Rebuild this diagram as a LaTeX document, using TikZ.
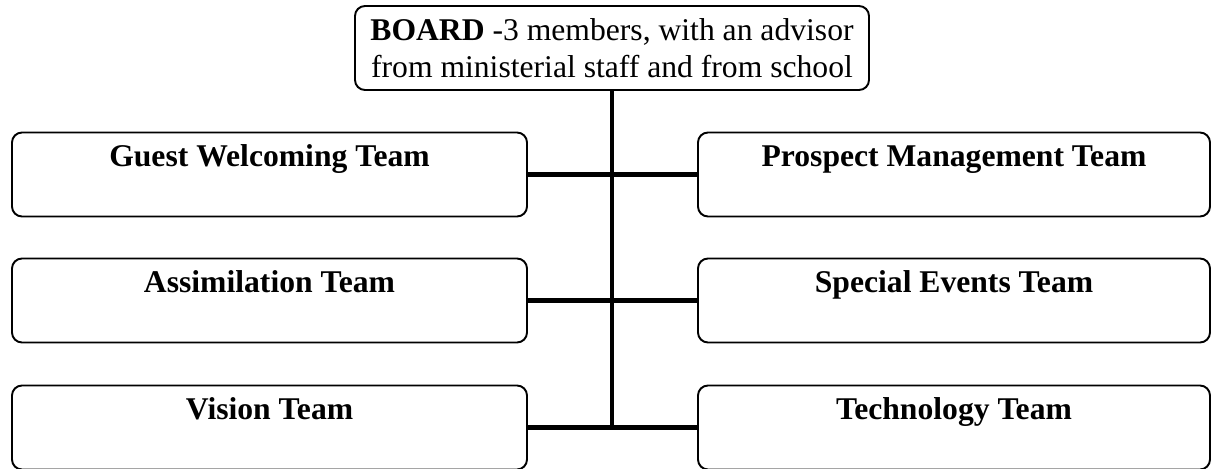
\documentclass[tikz,border=0pt]{standalone}
\usepackage{fontspec}
\setmainfont{Liberation Serif}
\usepackage{tikz}

\begin{document}
\begin{tikzpicture}[
        board/.style={draw, line width=1.1pt, rounded corners=0.2cm, align=center,
                      minimum width=10.28cm, minimum height=1.68cm, inner sep=0.1cm,
                      font=\fontsize{18}{21}\selectfont},
        team/.style={draw, line width=1.1pt, rounded corners=0.2cm, inner ysep=0pt,
                     minimum width=10.3cm, text height=0.68cm, text depth=1.0cm,
                     font=\fontsize{18}{21}\selectfont\bfseries},
        link/.style={line width=2.8pt}]
    \useasboundingbox (0,0) rectangle (24.24,-9.38);

    % top box
    \node[board] (board) at (12.24,-0.96)
        {\textbf{BOARD} -3 members, with an advisor\\from ministerial staff and from school};

    % teams, left column
    \node[team] (guest)   at (5.39,-3.49) {Guest Welcoming Team};
    \node[team] (assim)   at (5.39,-6.01) {Assimilation Team};
    \node[team] (vision)  at (5.39,-8.55) {Vision Team};
    % teams, right column
    \node[team, minimum width=10.24cm] (prospect) at (19.08,-3.49) {Prospect Management Team};
    \node[team, minimum width=10.24cm] (events)   at (19.08,-6.01) {Special Events Team};
    \node[team, minimum width=10.24cm] (tech)     at (19.08,-8.55) {Technology Team};

    % trunk and branches
    \draw[link] (board.south) -- (board.south |- vision.east);
    \draw[link] (guest.east) -- (prospect.west);
    \draw[link] (assim.east) -- (events.west);
    \draw[link] (vision.east) -- (tech.west);
\end{tikzpicture}
\end{document}
